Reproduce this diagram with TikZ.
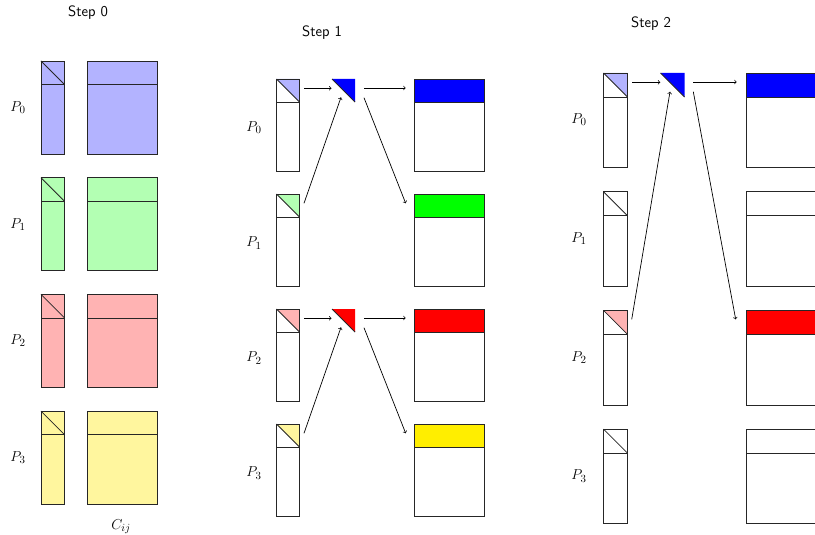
\documentclass[tikz,border=0pt]{standalone}
\usetikzlibrary{calc}
\definecolor{lblue}{RGB}{179,179,255}
\definecolor{lgreen}{RGB}{179,255,179}
\definecolor{lred}{RGB}{255,179,179}
\definecolor{lyellow}{RGB}{255,246,158}
\definecolor{byellow}{RGB}{255,238,0}
\begin{document}
\begin{tikzpicture}[x=1pt,y=-1pt,
  frame/.style={draw=black!85, line width=0.8pt},
  box/.style={frame, rectangle, inner sep=0pt, outer sep=0pt, anchor=north west},
  link/.style={->, line width=0.7pt},
  steplabel/.style={font=\sffamily\fontsize{15}{17}\selectfont},
  plabel/.style={font=\fontsize{15}{17}\selectfont}
]
\useasboundingbox (0,0) rectangle (815,535);
\clip (0,0) rectangle (815,535);

% ---------------- Step 0: every block fully shaded ----------------
\node[steplabel] (t0) at (88,13) {Step 0};
\foreach \r/\lc in {0/lblue,1/lgreen,2/lred,3/lyellow}{
  \pgfmathsetmacro\T{61+116.7*\r}
  \node[box, fill=\lc, minimum width=23.5pt, minimum height=93pt] (a\r) at (41,\T) {};
  \node[box, fill=\lc, minimum width=70pt, minimum height=93pt] (m\r) at (87.5,\T) {};
  \draw[frame] ($(a\r.north west)+(0,23.5)$) -- ($(a\r.north east)+(0,23.5)$);
  \draw[frame] (a\r.north west) -- ($(a\r.north east)+(0,23.5)$);
  \draw[frame] ($(m\r.north west)+(0,23.5)$) -- ($(m\r.north east)+(0,23.5)$);
  \node[plabel] (p0\r) at (18,\T+46.5) {$P_{\r}$};
}
\node[plabel] (cij) at (121,527) {$C_{ij}$};

% ---------------- Step 1 ----------------
\node[steplabel] (t1) at (322,33) {Step 1};
\foreach \r/\lc/\bc in {0/lblue/blue,1/lgreen/green,2/lred/red,3/lyellow/byellow}{
  \pgfmathsetmacro\T{79+115*\r}
  \fill[\lc] (276.5,\T) -- (299.5,\T) -- (299.5,\T+23) -- cycle;
  \fill[\bc] (414.5,\T) rectangle (484,\T+23);
  \node[box, minimum width=23pt, minimum height=92pt] (b\r) at (276.5,\T) {};
  \node[box, minimum width=69.5pt, minimum height=92pt] (n\r) at (414.5,\T) {};
  \draw[frame] ($(b\r.north west)+(0,23)$) -- ($(b\r.north east)+(0,23)$);
  \draw[frame] (b\r.north west) -- ($(b\r.north east)+(0,23)$);
  \draw[frame] ($(n\r.north west)+(0,23)$) -- ($(n\r.north east)+(0,23)$);
  \node[plabel] (p1\r) at (254,\T+49) {$P_{\r}$};
}
% pivot triangles of step 1
\foreach \r/\bc in {0/blue,2/red}{
  \pgfmathsetmacro\T{79+115*\r}
  \coordinate (v\r) at (332,\T);
  \fill[\bc] (v\r) -- ++(23,0) -- ++(0,23) -- cycle;
  \draw[frame] (v\r) -- ++(23,23);
}
\foreach \r/\s in {0/1,2/3}{
  \draw[link] ($(b\r.north east)+(4.5,9.3)$) -- ($(v\r)+(-0.5,9.3)$);
  \draw[link] ($(v\r)+(32,9)$) -- ($(n\r.north west)+(-8.8,9)$);
  \draw[link] ($(b\s.north east)+(4.5,9.3)$) -- ($(v\r)+(9,18.3)$);
  \draw[link] ($(v\r)+(32,18.7)$) -- ($(n\s.north west)+(-8.8,9.3)$);
}

% ---------------- Step 2 ----------------
\node[steplabel] (t2) at (651,24) {Step 2};
\foreach \r/\lc/\bc in {0/lblue/blue,1/white/white,2/lred/red,3/white/white}{
  \pgfmathsetmacro\T{73+118.7*\r}
  \fill[\lc] (603.5,\T) -- (627.5,\T) -- (627.5,\T+24) -- cycle;
  \fill[\bc] (746,\T) rectangle (818,\T+24);
  \node[box, minimum width=24pt, minimum height=94.5pt] (c\r) at (603.5,\T) {};
  \node[box, minimum width=72pt, minimum height=94.5pt] (k\r) at (746,\T) {};
  \draw[frame] ($(c\r.north west)+(0,24)$) -- ($(c\r.north east)+(0,24)$);
  \draw[frame] (c\r.north west) -- ($(c\r.north east)+(0,24)$);
  \draw[frame] ($(k\r.north west)+(0,24)$) -- ($(k\r.north east)+(0,24)$);
  \node[plabel] (p2\r) at (579,\T+47) {$P_{\r}$};
}
% pivot triangle of step 2
\coordinate (u0) at (660.5,73);
\fill[blue] (u0) -- ++(24,0) -- ++(0,24) -- cycle;
\draw[frame] (u0) -- ++(24,24);
\draw[link] ($(c0.north east)+(4.5,9.3)$) -- ($(u0)+(-0.2,9.3)$);
\draw[link] ($(u0)+(32.8,9)$) -- ($(k0.north west)+(-9.3,9)$);
\draw[link] ($(c2.north east)+(4.2,9)$) -- ($(u0)+(9.5,18.7)$);
\draw[link] ($(u0)+(32.8,18.7)$) -- ($(k2.north west)+(-10.3,9)$);
\end{tikzpicture}
\end{document}
